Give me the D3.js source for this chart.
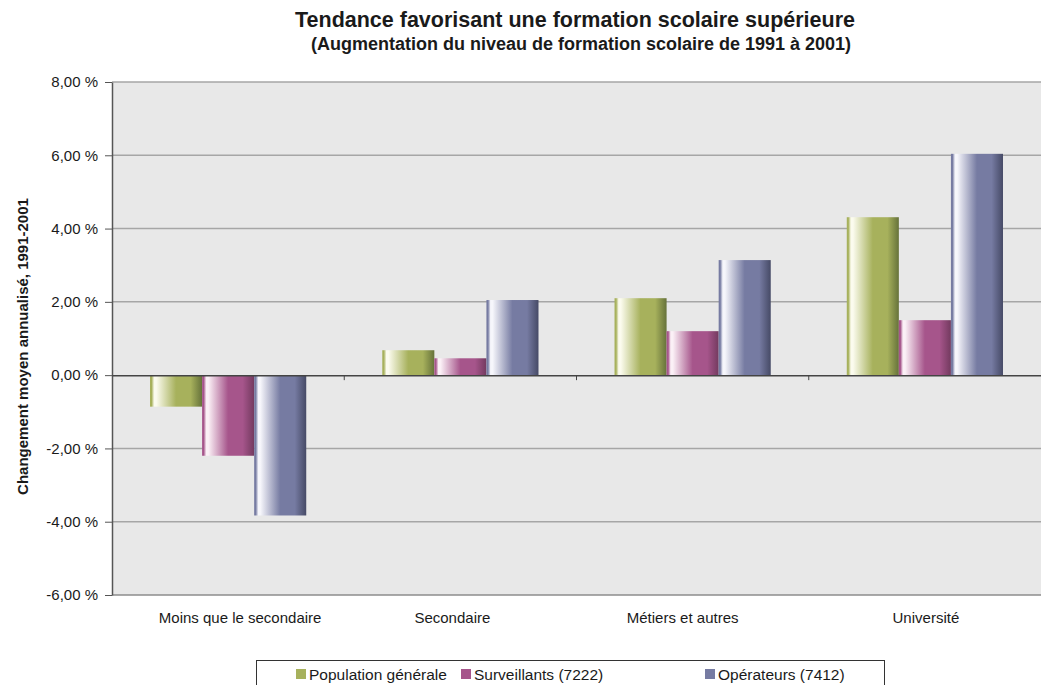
<!DOCTYPE html>
<html>
<head>
<meta charset="utf-8">
<script src="https://cdn.jsdelivr.net/npm/d3@7"></script>
<style>
  body { margin: 0; background: #fff; }
  text { font-family: "Liberation Sans", Arial, sans-serif; fill: #1a1a1a; }
</style>
</head>
<body>
<div id="chart"></div>
<script>
// Data
const categories = ["Moins que le secondaire", "Secondaire", "Métiers et autres", "Université"];
const seriesNames = ["Population générale", "Surveillants (7222)", "Opérateurs (7412)"];
const populationGenerale = [-0.86, 0.68, 2.10, 4.31];
const surveillants = [-2.20, 0.46, 1.20, 1.50];
const operateurs = [-3.83, 2.05, 3.14, 6.04];
const yTicks = [-6, -4, -2, 0, 2, 4, 6, 8];

const seriesValues = [populationGenerale, surveillants, operateurs];
const colors = [
  {base: "#a7b15c", dark: "#66723a", light: "#fbfbee"},
  {base: "#a6558b", dark: "#733a5f", light: "#fbf0f6"},
  {base: "#767ba2", dark: "#464a66", light: "#f6f6fb"}
];

/*******************************/
/*    Declare the constants    */
/*******************************/
const width = 1041;
const height = 685;
const margin = {top: 82, right: 0, bottom: 90, left: 112};
const innerWidth = width - margin.left - margin.right;
const innerHeight = height - margin.top - margin.bottom;

// French number format, hyphen minus
const frFormat = d3.formatLocale({decimal: ",", thousands: " ", grouping: [3], currency: ["", " €"], minus: "-"}).format(".2f");

const svg = d3.select("#chart")
  .append("svg")
    .attr("width", width)
    .attr("height", height);

// Gradients for the shiny bars
const defs = svg.append("defs");
colors.forEach((c, i) => {
  const g = defs.append("linearGradient")
    .attr("id", `grad-${i}`)
    .attr("x1", "0%").attr("x2", "100%")
    .attr("y1", "0%").attr("y2", "0%");
  [[0, c.base], [3, c.base], [8, c.light], [12, c.light], [50, c.base], [78, c.base], [100, c.dark]]
    .forEach(([o, col]) => g.append("stop").attr("offset", o + "%").attr("stop-color", col));
});

const innerChart = svg.append("g")
  .attr("transform", `translate(${margin.left}, ${margin.top})`);

/****************************/
/*    Declare the scales    */
/****************************/
const xScale = d3.scaleBand()
  .domain(categories)
  .range([0, innerWidth]);

const xInner = d3.scaleBand()
  .domain(d3.range(seriesNames.length))
  .range([0, xScale.bandwidth()])
  .paddingOuter(0.73);

const yScale = d3.scaleLinear()
  .domain([-6, 8])
  .range([innerHeight, 0]);

// Plot background
innerChart.append("rect")
  .attr("width", innerWidth)
  .attr("height", innerHeight)
  .attr("fill", "#e8e8e8");

// Gridlines
innerChart.append("g")
  .selectAll("line")
  .data(yTicks.filter(d => d !== 0 && d !== -6))
  .join("line")
    .attr("x1", 0).attr("x2", innerWidth)
    .attr("y1", d => yScale(d)).attr("y2", d => yScale(d))
    .attr("stroke", "#a6a6a6")
    .attr("stroke-width", 1.5);

// Bottom border of plot area
innerChart.append("line")
  .attr("x1", 0).attr("x2", innerWidth)
  .attr("y1", innerHeight).attr("y2", innerHeight)
  .attr("stroke", "#8c8c8c")
  .attr("stroke-width", 1.5);

/**************************/
/*      Bars              */
/**************************/
seriesValues.forEach((values, s) => {
  innerChart.append("g")
    .selectAll("rect")
    .data(values)
    .join("rect")
      .attr("x", (d, i) => xScale(categories[i]) + xInner(s))
      .attr("y", d => yScale(Math.max(0, d)))
      .attr("width", xInner.bandwidth())
      .attr("height", d => Math.abs(yScale(d) - yScale(0)))
      .attr("fill", `url(#grad-${s})`);
});

/**************************/
/*      Add the axes      */
/**************************/
const leftAxis = d3.axisLeft(yScale)
  .tickValues(yTicks)
  .tickSize(7)
  .tickSizeOuter(0)
  .tickFormat(d => frFormat(d) + " %");
const leftG = innerChart.append("g").call(leftAxis);
leftG.select(".domain").attr("stroke", "#555").attr("stroke-width", 1.5);
leftG.selectAll(".tick line").attr("stroke", "#555");
leftG.selectAll(".tick text")
  .attr("x", -14)
  .style("font-size", "15px")
  .attr("fill", "#1a1a1a");

// Zero line with category ticks
const bottomAxis = d3.axisBottom(xScale)
  .tickSize(0)
  .tickSizeOuter(0);
const zeroG = innerChart.append("g")
  .attr("transform", `translate(0, ${yScale(0)})`)
  .call(bottomAxis);
zeroG.select(".domain").attr("stroke", "#444").attr("stroke-width", 1.5);
zeroG.selectAll(".tick text").remove();
zeroG.selectAll(".tick line").remove();
zeroG.append("g")
  .selectAll("line")
  .data(categories.slice(1))
  .join("line")
    .attr("x1", d => xScale(d)).attr("x2", d => xScale(d))
    .attr("y1", 0).attr("y2", 5)
    .attr("stroke", "#444");

// Category labels (Excel centres them slightly off the band centre)
const labelShift = [12, -8, -10, 1];
innerChart.append("g")
  .selectAll("text")
  .data(categories)
  .join("text")
    .attr("x", (d, i) => xScale(d) + xScale.bandwidth() / 2 + labelShift[i])
    .attr("y", innerHeight + 28)
    .attr("text-anchor", "middle")
    .style("font-size", "15px")
    .text(d => d);

// Y axis title
svg.append("text")
  .attr("transform", `translate(28, ${margin.top + innerHeight / 2 + 8}) rotate(-90)`)
  .attr("text-anchor", "middle")
  .style("font-size", "15px")
  .style("font-weight", "bold")
  .text("Changement moyen annualisé, 1991-2001");

// Titles
svg.append("text")
  .attr("x", 575)
  .attr("y", 27)
  .attr("text-anchor", "middle")
  .style("font-size", "21.5px")
  .style("font-weight", "bold")
  .text("Tendance favorisant une formation scolaire supérieure");
svg.append("text")
  .attr("x", 581)
  .attr("y", 50)
  .attr("text-anchor", "middle")
  .style("font-size", "18px")
  .style("font-weight", "bold")
  .text("(Augmentation du niveau de formation scolaire de 1991 à 2001)");

/**************************/
/*      Legend            */
/**************************/
const legend = svg.append("g");
legend.append("rect")
  .attr("x", 256.5).attr("y", 660.5)
  .attr("width", 628).attr("height", 40)
  .attr("fill", "#fff")
  .attr("stroke", "#333");
const legendX = [296, 461, 705];
seriesNames.forEach((name, i) => {
  const g = legend.append("g").attr("transform", `translate(${legendX[i]}, 669)`);
  g.append("rect")
    .attr("width", 10).attr("height", 10)
    .attr("fill", colors[i].base);
  g.append("text")
    .attr("x", 13).attr("y", 11)
    .style("font-size", "15.5px")
    .text(name);
});
</script>
</body>
</html>
